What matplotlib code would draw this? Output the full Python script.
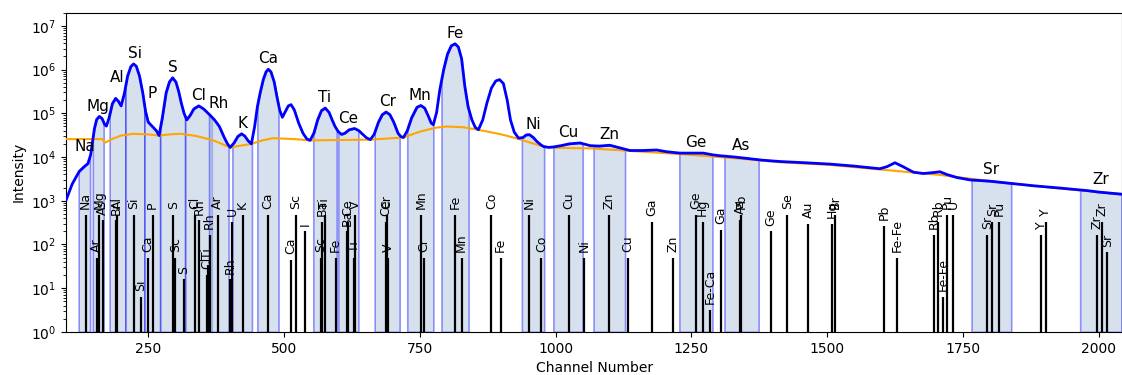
import matplotlib
matplotlib.use('Agg')
import matplotlib.pyplot as plt
import numpy as np

spec_channels = [99, 110, 123, 132, 139, 144, 148, 151, 155, 160, 165, 170, 173, 178, 184,
                 190, 195, 200, 206, 212, 218, 223, 228, 234, 240, 245, 250, 259, 265, 270,
                 276, 283, 289, 295, 301, 306, 311, 316, 321, 327, 334, 343, 352, 363, 372,
                 381, 390, 396, 401, 408, 415, 422, 428, 434, 440, 446, 451, 456, 462, 467,
                 471, 476, 482, 487, 492, 497, 503, 508, 513, 519, 527, 535, 542, 548, 555,
                 562, 569, 576, 583, 589, 594, 600, 606, 612, 620, 630, 638, 645, 652, 659,
                 666, 674, 681, 688, 695, 702, 710, 715, 720, 727, 735, 745, 752, 759, 766,
                 771, 775, 781, 787, 794, 801, 808, 815, 821, 827, 833, 839, 846, 852, 858,
                 866, 874, 882, 890, 897, 904, 911, 917, 924, 932, 940, 946, 952, 959, 966,
                 973, 978, 987, 996, 1010, 1025, 1045, 1064, 1080, 1100, 1115, 1137, 1160,
                 1186, 1205, 1229, 1250, 1272, 1290, 1303, 1330, 1352, 1380, 1413, 1460,
                 1505, 1550, 1597, 1610, 1625, 1640, 1659, 1677, 1695, 1708, 1720, 1739,
                 1763, 1800, 1837, 1880, 1929, 1980, 2000, 2043]
spec_counts = [1.05e3, 2.4e3, 4.7e3, 6.0e3, 7.1e3, 1.12e4, 2.45e4, 4.5e4, 7.2e4, 8.5e4,
               7.6e4, 5.5e4, 5.1e4, 7.9e4, 1.66e5, 2.2e5, 1.9e5, 1.48e5, 2.8e5, 7.1e5,
               1.17e6, 1.35e6, 1.2e6, 7.1e5, 2.9e5, 1.12e5, 6.3e4, 4.8e4, 4.0e4, 3.1e4,
               7.9e4, 2.95e5, 5.2e5, 6.5e5, 5.2e5, 3.2e5, 1.7e5, 1.0e5, 7.1e4, 8.9e4,
               1.26e5, 1.48e5, 1.26e5, 9.3e4, 7.1e4, 5.0e4, 2.8e4, 2.0e4, 1.66e4, 2.1e4,
               2.95e4, 3.4e4, 3.0e4, 2.35e4, 2.0e4, 5.0e4, 1.41e5, 2.9e5, 6.0e5, 8.9e5,
               1.02e6, 8.9e5, 5.2e5, 2.4e5, 1.2e5, 8.1e4, 1.12e5, 1.48e5, 1.58e5, 1.2e5,
               6.0e4, 3.5e4, 2.6e4, 2.4e4, 3.5e4, 7.1e4, 1.15e5, 1.32e5, 1.05e5, 6.9e4,
               5.0e4, 3.8e4, 3.3e4, 3.5e4, 4.2e4, 4.5e4, 4.0e4, 3.3e4, 2.75e4, 2.5e4,
               3.3e4, 6.3e4, 9.3e4, 1.07e5, 9.3e4, 6.3e4, 3.5e4, 2.95e4, 2.8e4, 4.0e4,
               7.9e4, 1.38e5, 1.51e5, 1.32e5, 8.5e4, 6.0e4, 5.5e4, 1.05e5, 3.5e5, 1.0e6,
               2.25e6, 3.5e6, 3.9e6, 3.3e6, 1.78e6, 4.1e5, 1.41e5, 7.1e4, 4.8e4, 4.2e4,
               7.1e4, 1.78e5, 3.8e5, 5.5e5, 5.9e5, 4.8e5, 2.0e5, 7.1e4, 3.7e4, 2.7e4,
               2.8e4, 3.2e4, 3.25e4, 2.8e4, 2.25e4, 1.9e4, 1.74e4, 1.66e4, 1.7e4, 1.82e4,
               2.0e4, 2.1e4, 1.82e4, 1.78e4, 1.86e4, 1.66e4, 1.41e4, 1.41e4, 1.45e4,
               1.32e4, 1.23e4, 1.23e4, 1.23e4, 1.12e4, 1.07e4, 1.0e4, 9.3e3, 8.5e3,
               7.9e3, 7.4e3, 6.9e3, 6.2e3, 5.4e3, 6.0e3, 7.4e3, 6.0e3, 4.5e3, 4.2e3,
               4.4e3, 4.6e3, 4.0e3, 3.4e3, 3.0e3, 2.8e3, 2.5e3, 2.2e3, 1.95e3, 1.7e3,
               1.58e3, 1.41e3]

# fitted continuum
bg_channels = [99, 165, 171, 185, 200, 222, 250, 270, 290, 311, 340, 370, 401, 420, 440,
               460, 480, 520, 548, 600, 659, 720, 750, 780, 800, 830, 858, 900, 932, 955,
               978, 1000, 1064, 1137, 1229, 1352, 1413, 1505, 1597, 1660, 1708, 1745, 1837,
               1929, 2043]
bg_counts = [2.57e4, 2.57e4, 2.14e4, 2.63e4, 3.1e4, 3.4e4, 3.3e4, 3.1e4, 3.3e4, 3.4e4,
             3.0e4, 2.4e4, 1.66e4, 1.82e4, 2.0e4, 2.4e4, 2.7e4, 2.57e4, 2.4e4, 2.45e4,
             2.5e4, 2.8e4, 3.8e4, 4.7e4, 5.0e4, 4.8e4, 4.2e4, 3.3e4, 2.6e4, 2.1e4, 1.74e4,
             1.62e4, 1.58e4, 1.38e4, 1.17e4, 8.9e3, 7.6e3, 6.6e3, 5.2e3, 4.4e3, 3.9e3,
             3.4e3, 2.5e3, 1.9e3, 1.41e3]

# fitted regions of interest
roi_labels = ['Na', 'Mg', 'Al', 'Si', 'P', 'S', 'Cl', 'Rh', 'K', 'Ca', 'Ti', 'Ce', 'Cr',
              'Mn', 'Fe', 'Ni', 'Cu', 'Zn', 'Ge', 'As', 'Sr', 'Zr']
roi_lo = [122, 148, 179, 208, 243, 272, 318, 362, 405, 451, 554, 600, 667, 727, 790,
          938, 996, 1070, 1228, 1311, 1766, 1966]
roi_hi = [143, 168, 208, 243, 272, 318, 367, 398, 441, 490, 597, 637, 713, 775, 840,
          979, 1050, 1128, 1289, 1374, 1839, 2042]

# reference line library
line_channels = [135, 155, 160, 166, 191, 193, 224, 236, 249, 258, 296, 300, 316, 336,
                 344, 358, 360, 363, 378, 401, 405, 424, 471, 512, 522, 539, 568, 570,
                 575, 595, 616, 618, 629, 631, 688, 690, 692, 752, 758, 815, 827, 882,
                 899, 952, 974, 1024, 1052, 1099, 1133, 1177, 1217, 1258, 1271, 1284,
                 1305, 1340, 1342, 1396, 1427, 1465, 1509, 1515, 1605, 1629, 1697, 1705,
                 1713, 1721, 1732, 1795, 1804, 1817, 1894, 1903, 1997, 2007, 2016]
line_heights = [480, 50, 480, 355, 355, 480, 480, 6.4, 50, 480, 480, 50, 16, 480,
                355, 20, 34, 166, 480, 16, 330, 480, 480, 45, 480, 200, 50, 330,
                480, 50, 200, 330, 50, 480, 330, 480, 50, 480, 50, 480, 50, 480,
                50, 480, 50, 480, 50, 480, 50, 330, 50, 480, 330, 3.2,
                215, 370, 480, 200, 480, 300, 300, 480, 270, 50, 166, 330,
                6.4, 480, 480, 166, 330, 330, 166, 330, 166, 330, 66]
line_labels = ['Na', 'Ar', 'Mg', 'As', 'Br', 'Al', 'Si', 'Si', 'Ca', 'P', 'S', 'Sc', 'S', 'Cl',
               'Rh', 'Cl', 'Ti', 'Rh', 'Ar', 'Rh', 'U', 'K', 'Ca', 'Ca', 'Sc', 'I', 'Sc', 'Ba',
               'Ti', 'Fe', 'Ba', 'Ce', 'Ti', 'V', 'Ce', 'Cr', 'V', 'Mn', 'Cr', 'Fe', 'Mn', 'Co',
               'Fe', 'Ni', 'Co', 'Cu', 'Ni', 'Zn', 'Cu', 'Ga', 'Zn', 'Ge', 'Hg', 'Fe-Ca',
               'Ga', 'As', 'Pb', 'Ge', 'Se', 'Au', 'Hg', 'Br', 'Pb', 'Fe-Fe', 'Rb', 'Rb',
               'Fe-Fe', 'Pu', 'U', 'Sr', 'Sr', 'Pu', 'Y', 'Y', 'Zr', 'Zr', 'Sr']

ch = np.array(spec_channels, dtype=float)
log_ct = np.log10(np.array(spec_counts, dtype=float))

fig, ax = plt.subplots(figsize=(11.22, 3.75), dpi=100)
fig.subplots_adjust(left=0.059, right=1.0, bottom=0.115, top=0.966)

for lab, lo, hi in zip(roi_labels, roi_lo, roi_hi):
    inside = (ch > lo) & (ch < hi)
    xs = np.concatenate([[lo], ch[inside], [hi]])
    ys = 10 ** np.interp(xs, ch, log_ct)
    ax.fill_between(xs, 1, ys, facecolor=(0.69, 0.77, 0.87, 0.5),
                    edgecolor=(0.0, 0.0, 1.0, 0.4), lw=1.2, zorder=1)
    ax.annotate(lab, ((lo + hi) / 2, ys.max()), xytext=(0, 2), textcoords='offset points',
                ha='center', va='bottom', fontsize=11, zorder=5)

ax.vlines(line_channels, 1, line_heights, color='black', lw=1.6, zorder=2)
for c, h, lab in zip(line_channels, line_heights, line_labels):
    ax.annotate(lab, (c, h), xytext=(0, 4), textcoords='offset points', rotation=90,
                ha='center', va='bottom', fontsize=9, zorder=5)

ax.plot(spec_channels, spec_counts, color='blue', lw=2.0, zorder=4)
ax.plot(bg_channels, bg_counts, color='orange', lw=1.5, zorder=3)

ax.set_yscale('log')
ax.set_ylim(1, 2e7)
ax.set_xlim(99, 2043)
ax.set_xticks([250, 500, 750, 1000, 1250, 1500, 1750, 2000])
ax.set_xlabel('Channel Number')
ax.set_ylabel('Intensity')

fig.savefig('out.png', dpi=100)
